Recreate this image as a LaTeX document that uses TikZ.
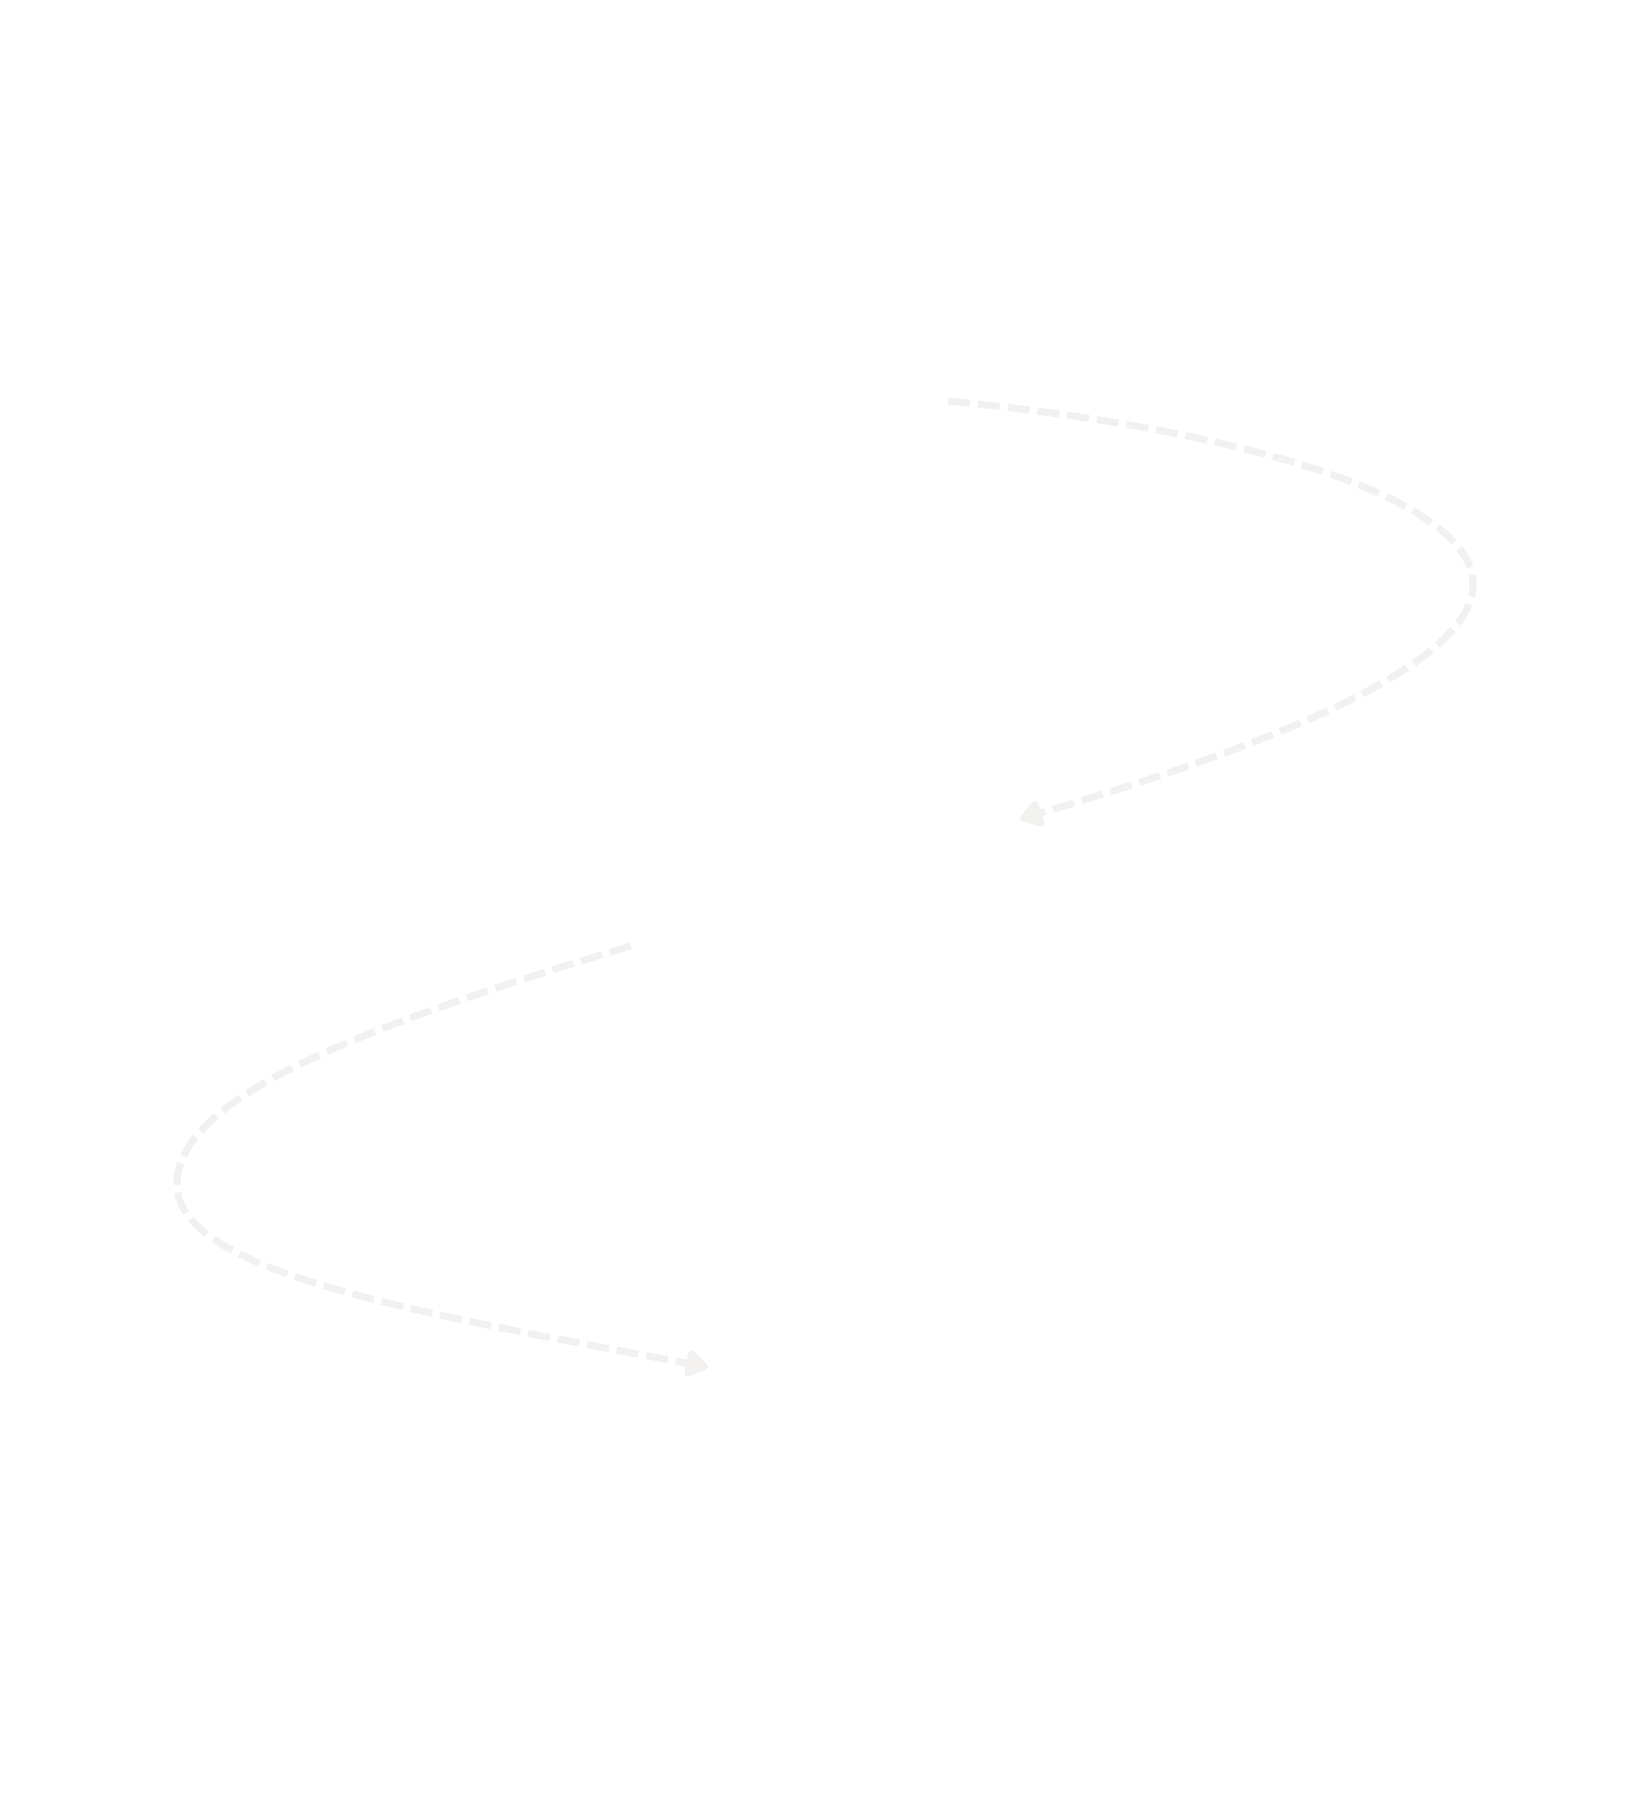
\documentclass[tikz,border=0pt]{standalone}
\usetikzlibrary{arrows.meta}
\definecolor{dashgrey}{HTML}{F2F1EF}
\tikzset{
  flowline/.style={draw=dashgrey, line width=0.07cm, dash pattern=on 0.22cm off 0.08cm,
    line join=round, -{Triangle[length=0.25cm,width=0.3cm,round,fill=dashgrey]}},
}
\begin{document}
\begin{tikzpicture}[x=0.01cm,y=-0.01cm]
\useasboundingbox[fill=white] (0,0) rectangle (1650,1800);
\coordinate (a1) at (948,401);
\coordinate (r1) at (1473,584);
\coordinate (b1) at (1020,819);
\coordinate (a2) at (631,946);
\coordinate (l2) at (177,1184);
\coordinate (b2) at (708,1367);
\draw[flowline] (a1) .. controls (1250,430) and (1473,500) .. (r1)
   .. controls (1473,650) and (1340,725) .. (b1);
\draw[flowline] (a2) .. controls (331,1035) and (177,1104) .. (l2)
   .. controls (177,1270) and (400,1310) .. (b2);
\end{tikzpicture}
\end{document}
